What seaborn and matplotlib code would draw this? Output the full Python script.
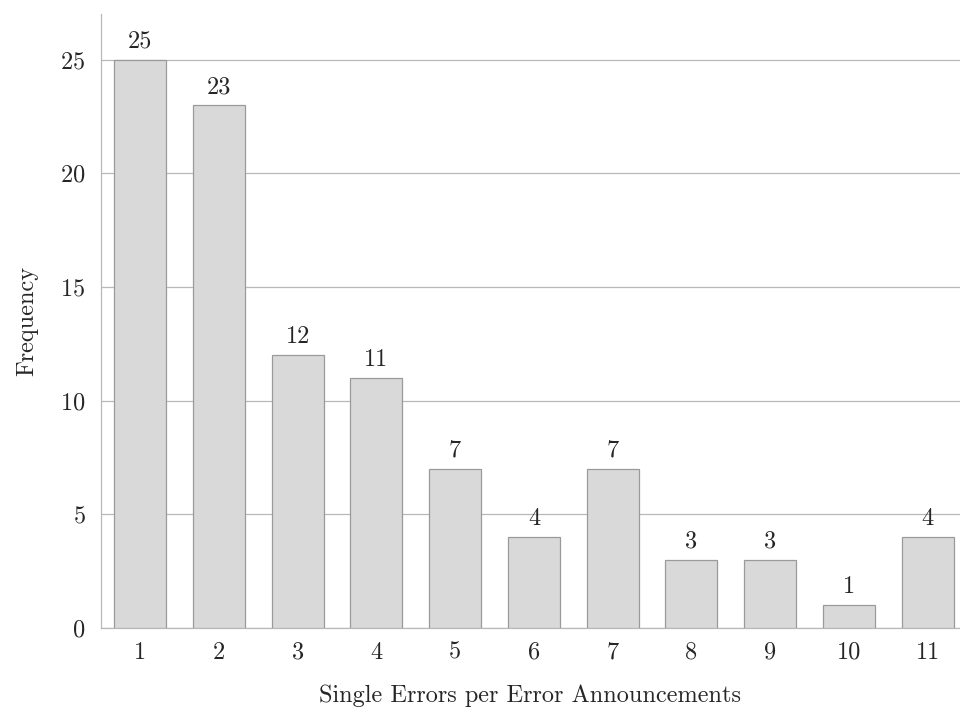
import matplotlib
matplotlib.use("Agg")
import matplotlib.pyplot as plt
import seaborn as sns
import pandas as pd
import numpy as np

categories = ["1", "2", "3", "4", "5", "6", "7", "8", "9", "10", "11"]
frequency = [25, 23, 12, 11, 7, 4, 7, 3, 3, 1, 4]

df = pd.DataFrame({"errors": categories, "freq": frequency})

sns.set_style("white")
plt.rcParams["font.family"] = ["cmr10", "DejaVu Serif"]
plt.rcParams["axes.formatter.use_mathtext"] = True
plt.rcParams["mathtext.fontset"] = "cm"

fs = 17.5

fig = plt.figure(figsize=(9.6, 7.07), dpi=100)
ax = fig.add_axes([0.105, 0.112, 0.895, 0.868])

sns.barplot(data=df, x="errors", y="freq", color="#d9d9d9", width=0.66,
            edgecolor="#9a9a9a", linewidth=0.9, saturation=1, ax=ax, zorder=3)

for c in ax.containers:
    ax.bar_label(c, labels=[str(v) for v in frequency], padding=5, fontsize=fs)

ax.set_ylim(0, 27)
ax.set_xlim(-0.5, 10.41)
ax.set_yticks([0, 5, 10, 15, 20, 25])
ax.yaxis.grid(True, color="#b8b8b8", linewidth=0.9, zorder=0)
ax.set_axisbelow(True)

ax.tick_params(axis="x", which="major", length=0, labelsize=fs, pad=10)
ax.set_xticks(np.arange(-0.5, 10.5, 1), minor=True)
ax.tick_params(axis="x", which="minor", length=6, color="#b8b8b8", width=0.9)
ax.tick_params(axis="y", length=5, color="#b8b8b8", width=0.9, labelsize=fs, pad=6)

for s in ["top", "right"]:
    ax.spines[s].set_visible(False)
ax.spines["left"].set_color("#b8b8b8")
ax.spines["bottom"].set_color("#b8b8b8")
ax.spines["left"].set_linewidth(0.9)
ax.spines["bottom"].set_linewidth(0.9)

ax.set_xlabel("Single Errors per Error Announcements", fontsize=fs, labelpad=15)
ax.set_ylabel("Frequency", fontsize=fs, labelpad=16)

fig.savefig("out.png", dpi=100)
